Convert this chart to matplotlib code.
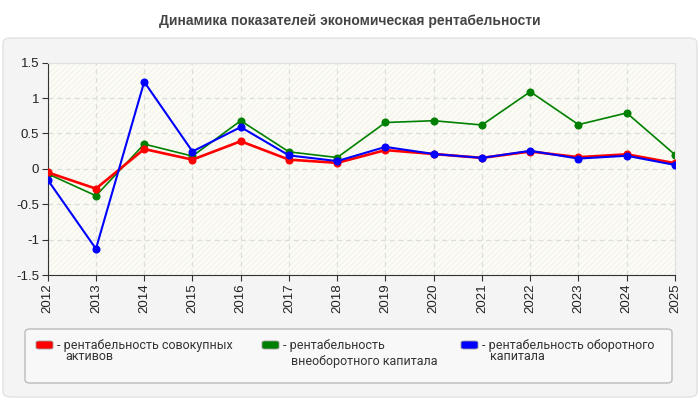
import matplotlib
matplotlib.use("Agg")
import matplotlib.pyplot as plt
from matplotlib.patches import FancyBboxPatch, Rectangle

years = [2012, 2013, 2014, 2015, 2016, 2017, 2018, 2019, 2020, 2021, 2022, 2023, 2024, 2025]
total_assets = [-0.05, -0.28, 0.28, 0.13, 0.39, 0.13, 0.085, 0.265, 0.21, 0.155, 0.245, 0.165, 0.205, 0.08]
noncurrent = [-0.07, -0.38, 0.35, 0.18, 0.68, 0.24, 0.16, 0.655, 0.68, 0.62, 1.09, 0.625, 0.79, 0.2]
working = [-0.155, -1.13, 1.23, 0.245, 0.59, 0.19, 0.11, 0.31, 0.21, 0.155, 0.255, 0.145, 0.185, 0.055]
yticks = [1.5, 1, 0.5, 0, -0.5, -1, -1.5]
names = ["рентабельность совокупных\nактивов",
         "рентабельность\nвнеоборотного капитала",
         "рентабельность оборотного\nкапитала"]
colors = ["#ff0000", "#008000", "#0000ff"]

plt.rcParams['font.family'] = ['Liberation Sans', 'Roboto', 'DejaVu Sans']

W, H = 700, 400
fig = plt.figure(figsize=(7, 4), dpi=100)
fig.patch.set_facecolor("white")

def fx(px):
    return px / W

def fy(py):
    return 1 - py / H

# outer panel
fig.patches.append(FancyBboxPatch((fx(3), fy(397)), fx(694), 359 / H, boxstyle="round,pad=0,rounding_size=0.012",
                                  transform=fig.transFigure, facecolor="#f4f4f4", edgecolor="#e2e2e2", lw=1,
                                  zorder=-5))
fig.text(0.5, fy(21), "Динамика показателей экономическая рентабельности", ha="center", va="center",
         fontsize=10, fontweight="bold", color="#444444")

ax = fig.add_axes([fx(47.7), fy(275), fx(675 - 47.7), (275 - 62.7) / H])
ax.set_zorder(2)
ax.set_facecolor("#fdfdf6")
ax.add_patch(Rectangle((0, 0), 1, 1, transform=ax.transAxes, facecolor="none", hatch="//////",
                       edgecolor="#f4f4ee", lw=0, zorder=0))
ax.plot(years, total_assets, color=colors[0], lw=1.9, marker="o", ms=4.8, zorder=3)
ax.plot(years, noncurrent, color=colors[1], lw=1.2, marker="o", ms=4.8, zorder=2)
ax.plot(years, working, color=colors[2], lw=1.5, marker="o", ms=4.8, zorder=4)

ax.set_xlim(years[0], years[-1])
ax.set_ylim(-1.5, 1.5)
ax.set_xticks(years)
ax.set_xticklabels([str(y) for y in years], rotation=90, fontsize=9.5, color="#222222")
ax.set_yticks(yticks)
ax.set_yticklabels([f"{v:g}" for v in yticks], fontsize=9.5, color="#222222")
ax.grid(True, color="#dddddd", ls=(0, (4, 3)), lw=0.9)
ax.set_axisbelow(True)
for s in ["top", "right"]:
    ax.spines[s].set_color("#e0e0e0")
for s in ["left", "bottom"]:
    ax.spines[s].set_color("#333333")
ax.tick_params(length=4, color="#333333", pad=2)

# legend
fig.patches.append(FancyBboxPatch((fx(25), fy(383)), fx(647), 54 / H, boxstyle="round,pad=0,rounding_size=0.008",
                                  transform=fig.transFigure, facecolor="#f8f8f8", edgecolor="#bbbbbb", lw=1,
                                  zorder=-4))
patch_x = [36, 262, 461]
line2_gap = [11, 16, 11]
leg_font = ['Roboto', 'DejaVu Sans']
for i in range(3):
    fig.patches.append(FancyBboxPatch((fx(patch_x[i]), fy(349)), fx(17), 8 / H,
                                      boxstyle="round,pad=0,rounding_size=0.004", transform=fig.transFigure,
                                      facecolor=colors[i], edgecolor="#999999", lw=0.6, zorder=-3))
    first, second = names[i].split("\n")
    fig.text(fx(patch_x[i] + 21), fy(345), "- " + first, ha="left", va="center", fontsize=9, color="#333333",
             family=leg_font)
    fig.text(fx(patch_x[i] + 29), fy(346 + line2_gap[i]), second, ha="left", va="center", fontsize=9,
             color="#333333", family=leg_font)

fig.savefig("out.png", dpi=100)
